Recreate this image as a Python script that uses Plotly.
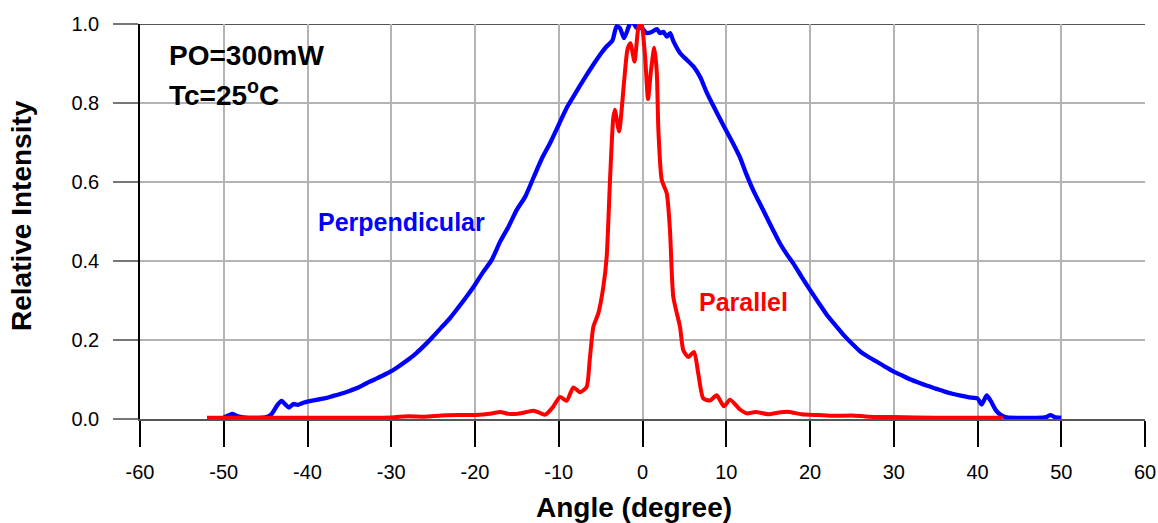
import plotly.graph_objects as go

# Perpendicular (blue) curve
perp_angle = [-50, -49.3, -49, -48.3, -47, -46, -45, -44.3, -43.6, -43.1, -42.6, -42.2, -41.7, -41.2, -40.5,
              -40, -38, -37, -36, -35, -34, -33, -32, -31, -30, -29, -28, -27, -26, -25, -24, -23, -22, -21,
              -20, -19, -18, -17, -16, -15, -14, -13, -12, -11, -10, -9, -8, -7, -6, -5, -4.3, -3.6, -3.1,
              -2.7, -2.2, -1.7, -1.3, -0.7, -0.1, 0.5, 1.1, 1.7, 2.1, 2.5, 2.9, 3.3, 3.7, 4.5, 5.3, 6.1, 6.9,
              7.7, 8.5, 9.2, 10, 11, 11.6, 12.4, 13.2, 14, 14.8, 15.6, 16.4, 17.2, 18, 19, 20, 21, 22, 23, 24,
              25, 26, 27, 28, 29, 30, 31, 32, 33, 34, 35, 36, 37, 38, 39, 40, 40.5, 41.1, 41.6, 42.2, 42.8,
              43.5, 45, 47, 48.2, 48.7, 49.2, 50]
perp_value = [0.004, 0.010, 0.013, 0.007, 0.003, 0.003, 0.004, 0.012, 0.035, 0.046, 0.036, 0.029, 0.038, 0.036, 0.041,
              0.044, 0.052, 0.058, 0.064, 0.071, 0.079, 0.090, 0.100, 0.110, 0.121, 0.135, 0.150, 0.167, 0.187, 0.209,
              0.232, 0.255, 0.282, 0.310, 0.340, 0.373, 0.403, 0.449, 0.487, 0.530, 0.563, 0.612, 0.660, 0.700, 0.745,
              0.790, 0.825, 0.860, 0.893, 0.924, 0.943, 0.958, 0.994, 0.990, 0.964, 0.990, 1.010, 0.990, 0.990, 0.977,
              0.980, 0.987, 0.977, 0.980, 0.968, 0.977, 0.956, 0.926, 0.909, 0.892, 0.865, 0.825, 0.791, 0.762, 0.730,
              0.690, 0.664, 0.620, 0.580, 0.546, 0.512, 0.478, 0.445, 0.418, 0.394, 0.360, 0.327, 0.295, 0.264, 0.238,
              0.213, 0.191, 0.171, 0.157, 0.145, 0.132, 0.120, 0.110, 0.100, 0.092, 0.084, 0.077, 0.070, 0.064, 0.059,
              0.055, 0.052, 0.037, 0.060, 0.045, 0.022, 0.010, 0.004, 0.003, 0.003, 0.005, 0.010, 0.005, 0.003]

# Parallel (red) curve
para_angle = [-52, -45, -40, -35, -30, -28, -26, -24, -22, -20, -18, -17, -16, -15, -14, -13, -12.2, -11.6,
              -10.7, -9.85, -9.05, -8.26, -7.46, -6.67, -6.3, -5.87, -5.27, -4.68, -4.28, -3.88, -3.5, -3.3,
              -2.8, -2.2, -1.8, -1.45, -0.95, -0.5, -0.15, 0.3, 0.66, 1.0, 1.41, 1.7, 1.9, 2.3, 2.9, 3.28,
              3.68, 4.48, 4.87, 5.47, 6.15, 6.66, 7.26, 8.06, 8.86, 9.73, 10.45, 11.64, 12.5, 13.5, 15, 16.5,
              17.5, 19, 21, 23, 25, 27, 30, 35, 40, 43]
para_value = [0.003, 0.003, 0.003, 0.003, 0.004, 0.007, 0.006, 0.009, 0.010, 0.010, 0.014, 0.018, 0.013, 0.013,
              0.017, 0.021, 0.015, 0.011, 0.030, 0.056, 0.046, 0.080, 0.068, 0.081, 0.150, 0.233, 0.268, 0.334,
              0.410, 0.605, 0.760, 0.783, 0.728, 0.854, 0.935, 0.951, 0.905, 0.990, 1.005, 0.920, 0.810, 0.880,
              0.940, 0.880, 0.730, 0.605, 0.571, 0.478, 0.309, 0.233, 0.174, 0.157, 0.170, 0.115, 0.052, 0.047,
              0.060, 0.032, 0.049, 0.024, 0.014, 0.018, 0.012, 0.017, 0.018, 0.012, 0.010, 0.008, 0.009, 0.006,
              0.005, 0.003, 0.003, 0.003]

x_ticks = [-60, -50, -40, -30, -20, -10, 0, 10, 20, 30, 40, 50, 60]
y_ticks = [0.0, 0.2, 0.4, 0.6, 0.8, 1.0]

FONT = "Arial, Liberation Sans, sans-serif"
GRID = "#b4b4b4"

fig = go.Figure()
fig.add_trace(go.Scatter(x=perp_angle, y=perp_value, mode="lines",
                         line=dict(color="#0000ff", width=4.3, shape="spline", smoothing=0.6),
                         showlegend=False, cliponaxis=False))
fig.add_trace(go.Scatter(x=para_angle, y=para_value, mode="lines",
                         line=dict(color="#ff0000", width=4, shape="spline", smoothing=0.6),
                         showlegend=False, cliponaxis=False))

fig.update_layout(
    width=1158, height=523,
    margin=dict(l=140, r=13, t=24, b=104, autoexpand=False),
    paper_bgcolor="white", plot_bgcolor="white",
    font=dict(family=FONT, color="black"),
    xaxis=dict(range=[-60, 60], tickvals=x_ticks, ticktext=[str(v) for v in x_ticks],
               showgrid=True, gridcolor=GRID, gridwidth=1.5,
               showline=True, linecolor="#555555", linewidth=2,
               ticks="outside", ticklen=26, tickcolor="black", tickwidth=1.5,
               tickfont=dict(size=20, family=FONT), zeroline=False, automargin=False,
               ticklabelstandoff=8),
    yaxis=dict(range=[0, 1], tickvals=y_ticks, ticktext=[f"{v:.1f}" for v in y_ticks],
               showgrid=True, gridcolor=GRID, gridwidth=1.5,
               showline=True, linecolor="black", linewidth=1.5,
               ticks="outside", ticklen=25, tickcolor="#777777", tickwidth=1.5,
               tickfont=dict(size=20, family=FONT), zeroline=False, automargin=False,
               ticklabelstandoff=10),
)

# darker top border line at 1.0
fig.add_shape(type="line", xref="x", yref="y", x0=-60, x1=60, y0=1, y1=1,
              line=dict(color="#555555", width=2), layer="below")

# axis titles
fig.add_annotation(x=0.4915, y=-0.225, xref="paper", yref="paper", text="<b>Angle (degree)</b>",
                   showarrow=False, xanchor="center", yanchor="middle",
                   font=dict(size=28, color="black", family=FONT))
fig.add_annotation(x=-0.1174, y=0.514, xref="paper", yref="paper", text="<b>Relative Intensity</b>",
                   showarrow=False, xanchor="center", yanchor="middle", textangle=-90,
                   font=dict(size=28, color="black", family=FONT))

fig.add_annotation(x=-56.8, y=0.92, xref="x", yref="y", text="<b>PO=300mW</b>", showarrow=False,
                   xanchor="left", yanchor="middle", font=dict(size=28, color="black", family=FONT))
fig.add_annotation(x=-56.8, y=0.826, xref="x", yref="y", text="<b>Tc=25<sup>o</sup>C</b>", showarrow=False,
                   xanchor="left", yanchor="middle", font=dict(size=28, color="black", family=FONT))
fig.add_annotation(x=-39.0, y=0.50, xref="x", yref="y", text="<b>Perpendicular</b>", showarrow=False,
                   xanchor="left", yanchor="middle", font=dict(size=25, color="#0000ff", family=FONT))
fig.add_annotation(x=6.5, y=0.297, xref="x", yref="y", text="<b>Parallel</b>", showarrow=False,
                   xanchor="left", yanchor="middle", font=dict(size=25, color="#ff0000", family=FONT))

fig.write_html("out.html", config={"displayModeBar": False},
               post_script="document.body.style.margin='0';document.body.style.overflow='hidden';")
